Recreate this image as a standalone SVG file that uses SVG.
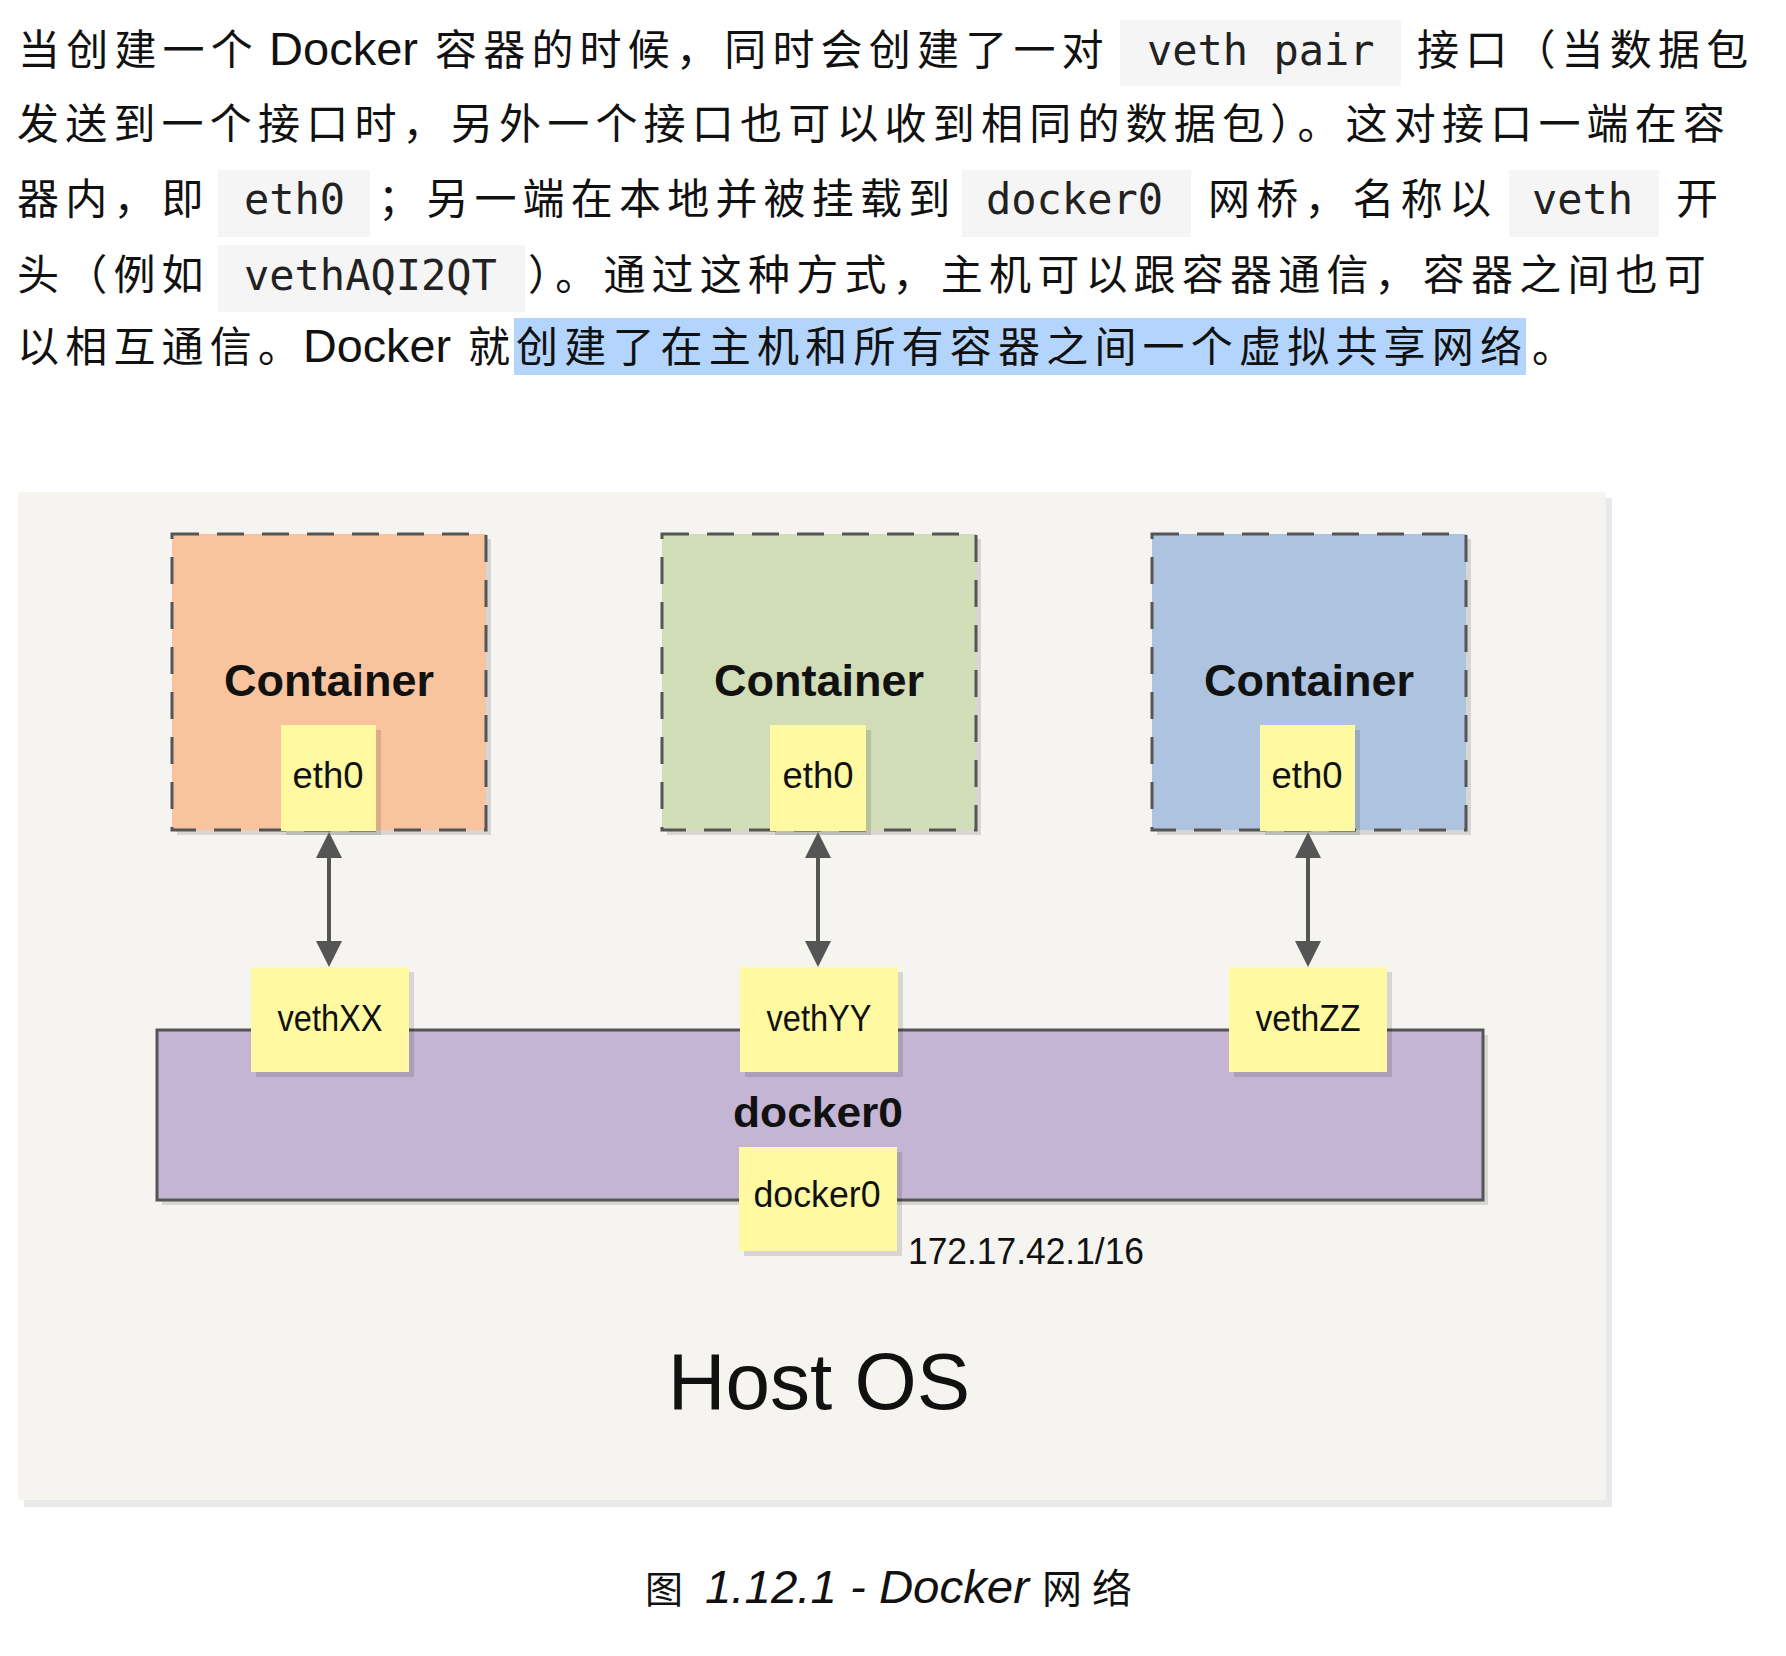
<svg xmlns="http://www.w3.org/2000/svg" width="1786" height="1656" viewBox="0 0 1786 1656">
<defs>
<style>
.cjk{font-family:"Noto Sans CJK SC","Noto Sans CJK TC",sans-serif;font-size:42px;letter-spacing:6.2px;fill:#111}
.lat{font-family:"Liberation Sans",Arial,sans-serif;font-size:46px;fill:#111}
.mono{font-family:"DejaVu Sans Mono","Liberation Mono",monospace;font-size:42px;fill:#222}
.code{fill:#f5f5f5}
.sh{fill:#000;opacity:0.12}
.ctr{stroke:#555;stroke-width:3;stroke-dasharray:27 18}
.yel{fill:#fffaa2}
.lbl{font-family:"Liberation Sans",Arial,sans-serif;font-size:36px;fill:#111;text-anchor:middle}
.bold{font-family:"Liberation Sans",Arial,sans-serif;font-weight:bold;fill:#111;text-anchor:middle}
.conn{stroke:#555;stroke-width:4;fill:none}
</style>
<marker id="ah" markerUnits="userSpaceOnUse" markerWidth="26" markerHeight="26" refX="0" refY="13" orient="auto-start-reverse" viewBox="0 0 26 26">
<path d="M0,0 L26,13 L0,26 z" fill="#555"/>
</marker>
</defs>
<rect x="0" y="0" width="1786" height="1656" fill="#ffffff"/>

<g id="paragraph">
<rect class="code" x="1120" y="20" width="281" height="66"/>
<rect class="code" x="218" y="170" width="152" height="67"/>
<rect class="code" x="962" y="170" width="229" height="67"/>
<rect class="code" x="1509" y="170" width="150" height="67"/>
<rect class="code" x="218" y="245" width="307" height="67"/>
<rect x="514" y="318" width="1012" height="57" fill="#b3d4fc"/>

<text class="cjk" x="18" y="65">当创建一个</text>
<text class="lat" x="269" y="65" textLength="149" lengthAdjust="spacingAndGlyphs">Docker</text>
<text class="cjk" x="435" y="65">容器的时候，同时会创建了一对</text>
<text class="mono" x="1147" y="65">veth pair</text>
<text class="cjk" x="1417" y="65">接口（当数据包</text>

<text class="cjk" x="17" y="139">发送到一个接口时，另外一个接口也可以收到相同的数据包）。这对接口一端在容</text>

<text class="cjk" x="17" y="214">器内，即</text>
<text class="mono" x="244" y="214">eth0</text>
<text class="cjk" x="378" y="214">；另一端在本地并被挂载到</text>
<text class="mono" x="986" y="214">docker0</text>
<text class="cjk" x="1208" y="214">网桥，名称以</text>
<text class="mono" x="1532" y="214">veth</text>
<text class="cjk" x="1676" y="214">开</text>

<text class="cjk" x="17" y="290">头（例如</text>
<text class="mono" x="244" y="290">vethAQI2QT</text>
<text class="cjk" x="528" y="290">）。通过这种方式，主机可以跟容器通信，容器之间也可</text>

<text class="cjk" x="17" y="362">以相互通信。</text>
<text class="lat" x="303" y="362" textLength="148" lengthAdjust="spacingAndGlyphs">Docker</text>
<text class="cjk" x="468" y="362">就</text>
<text class="cjk" x="516" y="362">创建了在主机和所有容器之间一个虚拟共享网络</text>
<text class="cjk" x="1532" y="362">。</text>
</g>

<g id="host-os">
<rect x="24" y="498" width="1588" height="1009" fill="#e9e9e9"/>
<rect x="18" y="492" width="1588" height="1008" fill="#f5f4f0"/>
<text x="819" y="1409" font-family="'Liberation Sans',Arial,sans-serif" font-size="80" fill="#111" text-anchor="middle">Host OS</text>
</g>

<g id="docker0-bridge">
<rect class="sh" x="162" y="1035" width="1326" height="170"/>
<rect x="157" y="1030" width="1326" height="170" fill="#c3b5d3" stroke="#555" stroke-width="3"/>
<text class="bold" x="818" y="1127" font-size="42" textLength="170" lengthAdjust="spacingAndGlyphs">docker0</text>
</g>

<g id="docker0-iface">
<rect class="sh" x="744" y="1152" width="158" height="104"/>
<rect class="yel" x="739" y="1147" width="158" height="104"/>
<text class="lbl" x="817" y="1207" textLength="127" lengthAdjust="spacingAndGlyphs">docker0</text>
<text x="908" y="1264" font-family="'Liberation Sans',Arial,sans-serif" font-size="36" fill="#111" textLength="236" lengthAdjust="spacingAndGlyphs">172.17.42.1/16</text>
</g>

<g id="container1">
<rect class="sh" x="177" y="539" width="314" height="296"/>
<rect class="ctr" x="172" y="534" width="314" height="296" fill="#f9c49d"/>
<text class="bold" x="329" y="696" font-size="45">Container</text>
<g id="eth0-1">
<rect class="sh" x="286" y="730" width="95" height="105"/>
<rect class="yel" x="281" y="725" width="95" height="106"/>
<text class="lbl" x="328" y="788" textLength="71" lengthAdjust="spacingAndGlyphs">eth0</text>
</g>
</g>

<g id="container2">
<rect class="sh" x="667" y="539" width="314" height="296"/>
<rect class="ctr" x="662" y="534" width="314" height="296" fill="#d1ddb6"/>
<text class="bold" x="819" y="696" font-size="45">Container</text>
<g id="eth0-2">
<rect class="sh" x="775" y="730" width="96" height="105"/>
<rect class="yel" x="770" y="725" width="96" height="106"/>
<text class="lbl" x="818" y="788" textLength="71" lengthAdjust="spacingAndGlyphs">eth0</text>
</g>
</g>

<g id="container3">
<rect class="sh" x="1157" y="539" width="314" height="296"/>
<rect class="ctr" x="1152" y="534" width="314" height="296" fill="#aec3df"/>
<text class="bold" x="1309" y="696" font-size="45">Container</text>
<g id="eth0-3">
<rect class="sh" x="1265" y="730" width="95" height="105"/>
<rect class="yel" x="1260" y="725" width="95" height="106"/>
<text class="lbl" x="1307" y="788" textLength="71" lengthAdjust="spacingAndGlyphs">eth0</text>
</g>
</g>

<g id="vethXX">
<rect class="sh" x="256" y="972" width="158" height="105"/>
<rect class="yel" x="251" y="967" width="158" height="105"/>
<text class="lbl" x="330" y="1031" textLength="105" lengthAdjust="spacingAndGlyphs">vethXX</text>
</g>
<g id="vethYY">
<rect class="sh" x="745" y="972" width="158" height="105"/>
<rect class="yel" x="740" y="967" width="158" height="105"/>
<text class="lbl" x="819" y="1031" textLength="105" lengthAdjust="spacingAndGlyphs">vethYY</text>
</g>
<g id="vethZZ">
<rect class="sh" x="1234" y="972" width="158" height="105"/>
<rect class="yel" x="1229" y="967" width="158" height="105"/>
<text class="lbl" x="1308" y="1031" textLength="105" lengthAdjust="spacingAndGlyphs">vethZZ</text>
</g>

<g id="connectors">
<line class="conn" x1="329" y1="858" x2="329" y2="941" marker-start="url(#ah)" marker-end="url(#ah)"/>
<line class="conn" x1="818" y1="858" x2="818" y2="941" marker-start="url(#ah)" marker-end="url(#ah)"/>
<line class="conn" x1="1308" y1="858" x2="1308" y2="941" marker-start="url(#ah)" marker-end="url(#ah)"/>
</g>

<g id="caption">
<text x="645" y="1603" font-family="'Noto Sans CJK SC',sans-serif" font-size="38" fill="#111">图</text>
<text x="705" y="1603" font-family="'Liberation Sans',Arial,sans-serif" font-size="46" font-style="italic" fill="#111" textLength="324" lengthAdjust="spacingAndGlyphs">1.12.1 - Docker</text>
<text x="1042" y="1603" font-family="'Noto Sans CJK SC',sans-serif" font-size="40" letter-spacing="10" fill="#111">网络</text>
</g>
</svg>
